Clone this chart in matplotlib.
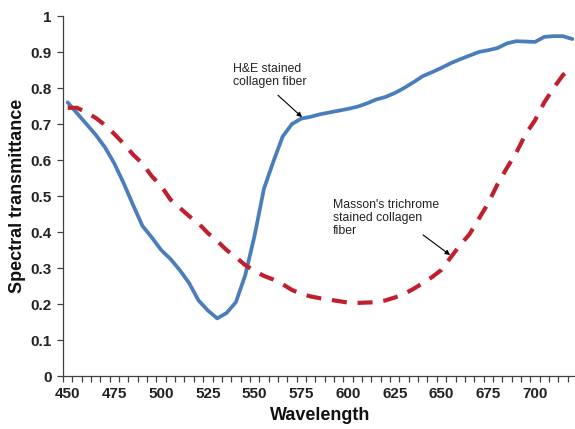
import numpy as np
import matplotlib.pyplot as plt

plt.rcParams['font.family'] = ['Liberation Sans', 'DejaVu Sans']

wavelength = np.arange(450, 725, 5)

he_stained = [0.76, 0.73, 0.70, 0.67, 0.635, 0.59, 0.535, 0.475, 0.417, 0.385,
              0.35, 0.325, 0.294, 0.258, 0.21, 0.182, 0.16, 0.175, 0.205, 0.28,
              0.39, 0.52, 0.595, 0.665, 0.70, 0.715, 0.72, 0.727, 0.732, 0.737,
              0.742, 0.748, 0.757, 0.768, 0.775, 0.786, 0.80, 0.816, 0.833, 0.844,
              0.856, 0.869, 0.88, 0.89, 0.90, 0.905, 0.911, 0.924, 0.93, 0.929,
              0.928, 0.942, 0.944, 0.944, 0.936]

masson = [0.745, 0.745, 0.732, 0.717, 0.697, 0.672, 0.645, 0.615, 0.59, 0.555,
          0.528, 0.49, 0.467, 0.444, 0.424, 0.397, 0.375, 0.35, 0.33, 0.308,
          0.292, 0.278, 0.268, 0.255, 0.239, 0.228, 0.221, 0.216, 0.212, 0.208,
          0.204, 0.203, 0.204, 0.205, 0.21, 0.218, 0.228, 0.242, 0.258, 0.275,
          0.295, 0.33, 0.364, 0.394, 0.437, 0.48, 0.533, 0.578, 0.62, 0.672,
          0.71, 0.76, 0.80, 0.836, 0.858]

fig = plt.figure(figsize=(5.75, 4.29), dpi=100)
ax = fig.add_axes([63 / 575, 53 / 429, 514 / 575, 360 / 429])

ax.plot(wavelength, he_stained, color='#4a7ebb', lw=2.7, solid_capstyle='round')
ax.plot(wavelength, masson, color='#c0202e', lw=3.0, dashes=(3.6, 2.6),
        dash_capstyle='butt')

ax.set_xlim(447.5, 722.5)
ax.set_ylim(0, 1)

ax.set_xticks(np.arange(450, 701, 25))
ax.set_xticklabels([str(v) for v in range(450, 701, 25)])
ax.set_xticks(np.arange(447.5, 723, 5), minor=True)
ax.tick_params(axis='x', which='major', length=0, pad=8)
ax.tick_params(axis='x', which='minor', length=4.5, width=0.9, color='#404040')

yt = np.round(np.arange(0, 1.01, 0.1), 1)
ax.set_yticks(yt)
ax.set_yticklabels(['0', '0.1', '0.2', '0.3', '0.4', '0.5', '0.6', '0.7', '0.8', '0.9', '1'])
ax.tick_params(axis='y', length=4, width=0.9, color='#404040', pad=4)

for lab in ax.get_xticklabels() + ax.get_yticklabels():
    lab.set_fontweight('bold')
    lab.set_fontsize(11)
    lab.set_color('#222222')

for s in ['top', 'right']:
    ax.spines[s].set_visible(False)
for s in ['left', 'bottom']:
    ax.spines[s].set_color('#404040')
    ax.spines[s].set_linewidth(0.9)

ax.set_xlabel('Wavelength', fontsize=13, fontweight='bold', labelpad=4, color='#111111')
ax.set_ylabel('Spectral transmittance', fontsize=13, fontweight='bold', labelpad=3,
              color='#111111')

note_style = dict(fontsize=8.8, ha='left', va='bottom', linespacing=1.15, color='#222222')
ax.text(538.5, 0.80, 'H&E stained\ncollagen fiber', **note_style)
ax.text(592, 0.385, "Masson's trichrome\nstained collagen\nfiber", **note_style)

arrow = dict(arrowstyle='-|>', color='black', lw=0.8, mutation_scale=7, shrinkA=0, shrinkB=0)
ax.annotate('', xy=(575.4, 0.719), xytext=(562.5, 0.78), arrowprops=arrow)
ax.annotate('', xy=(654.6, 0.336), xytext=(640.1, 0.392), arrowprops=arrow)

fig.savefig('out.png', dpi=100)
